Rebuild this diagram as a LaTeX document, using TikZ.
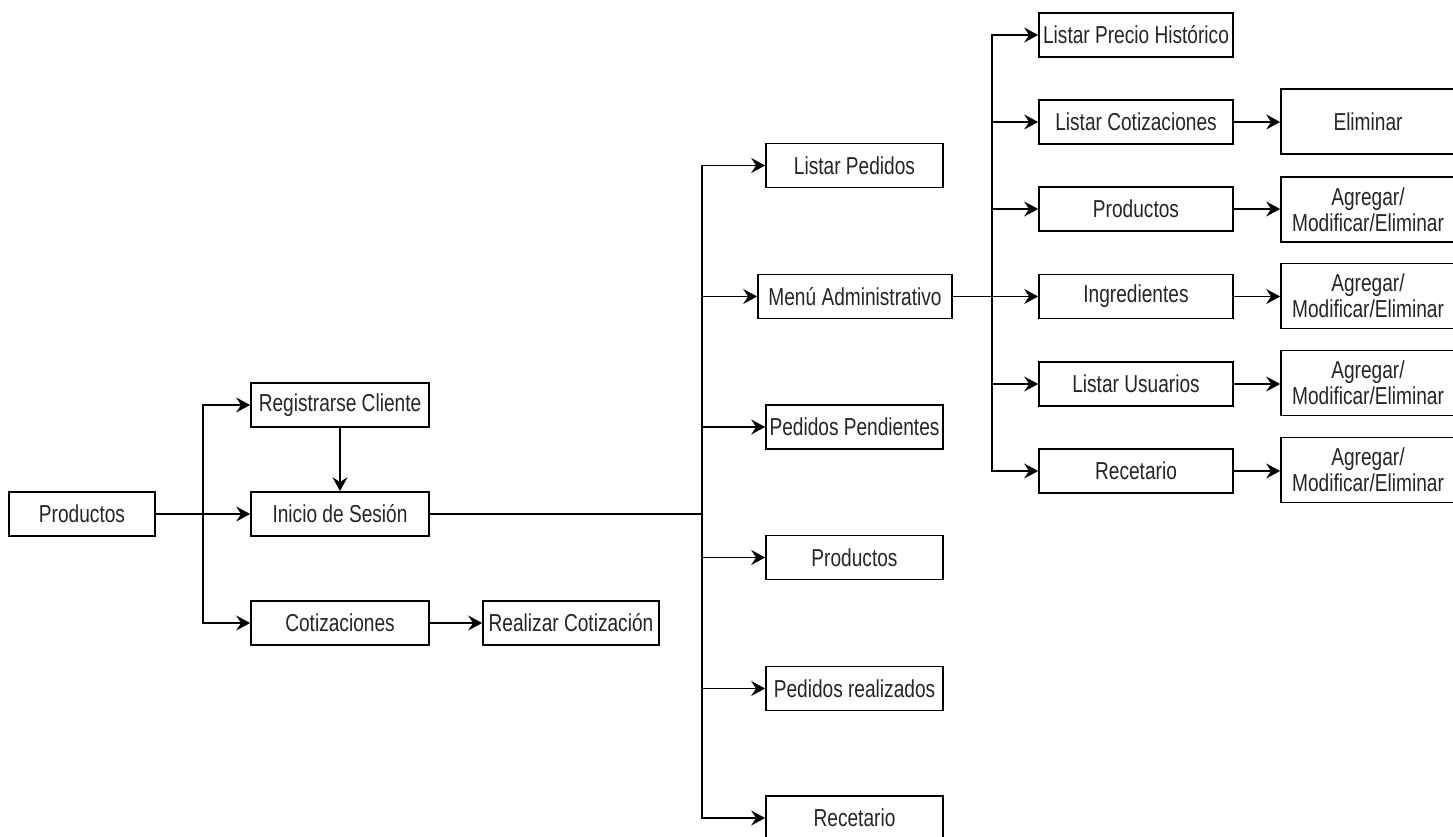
\documentclass[tikz,border=0pt]{standalone}
\usepackage{fontspec}
\newfontfamily\diafont[FakeStretch=0.78]{Liberation Sans}
\usetikzlibrary{arrows.meta}
\tikzset{tipa/.tip={Stealth[length=14pt,width=15pt,inset=5pt]}}
\begin{document}
\begin{tikzpicture}[x=1pt,y=-1pt,
  box/.style={draw=black, line width=1.7pt, fill=white, inner sep=0pt, align=center,
    font=\diafont\fontsize{24.5}{26}\selectfont, text=black!85, minimum height=44pt},
  wa/.style={minimum width=146pt},
  wb/.style={minimum width=178pt},
  wc/.style={minimum width=177pt},
  wr/.style={minimum width=194pt},
  wf/.style={minimum width=174pt, minimum height=65pt},
  conn/.style={line width=1.6pt, draw=black},
  arr/.style={conn, -tipa}
]
\fill[white] (0,0) rectangle (1453,837);
\useasboundingbox (0,0) rectangle (1453,837);

% left part
\node[box,wa] (prod0) at (82,514) {Productos};
\node[box,wb] (reg) at (340,405) {Registrarse Cliente};
\node[box,wb] (ini) at (340,514) {Inicio de Sesión};
\node[box,wb] (cot) at (340,623) {Cotizaciones};
\node[box,minimum width=176pt] (real) at (571,623) {Realizar Cotización};

% middle column
\node[box,wc] (lped) at (854.5,165.5) {Listar Pedidos};
\node[box,wr] (menu) at (855,296.5) {Menú Administrativo};
\node[box,wc] (pend) at (854.5,427) {Pedidos Pendientes};
\node[box,wc] (prodm) at (854.5,557.5) {Productos};
\node[box,wc] (preal) at (854.5,688.5) {Pedidos realizados};
\node[box,wc] (recm) at (854.5,818) {Recetario};

% right column
\node[box,wr] (hist) at (1136,35) {Listar Precio Histórico};
\node[box,wr] (lcot) at (1136,122) {Listar Cotizaciones};
\node[box,wr] (prodr) at (1136,209) {Productos};
\node[box,wr] (ingr) at (1136,296.5) {Ingredientes};
\node[box,wr] (lusu) at (1136,384) {Listar Usuarios};
\node[box,wr] (recr) at (1136,471) {Recetario};

% far right column
\node[box,wf] (elim) at (1368,121.5) {Eliminar};
\node[box,wf] (ag1) at (1368,209.5) {Agregar/\\Modificar/Eliminar};
\node[box,wf] (ag2) at (1368,296) {Agregar/\\Modificar/Eliminar};
\node[box,wf] (ag3) at (1368,383) {Agregar/\\Modificar/Eliminar};
\node[box,wf] (ag4) at (1368,470) {Agregar/\\Modificar/Eliminar};

% branch points
\coordinate (b1) at (203,514);
\coordinate (b2) at (702,514);
\coordinate (b3) at (992,296.5);

% left connectors
\draw[arr] (prod0.east) -- (ini.west);
\draw[arr] (b1) |- (reg.west);
\draw[arr] (b1) |- (cot.west);
\draw[arr] (reg.south) -- (ini.north);
\draw[arr] (cot.east) -- (real.west);

% middle connectors
\draw[conn] (ini.east) -- (b2);
\draw[arr] (b2) |- (lped.west);
\draw[arr] (b2) |- (menu.west);
\draw[arr] (b2) |- (pend.west);
\draw[arr] (b2) |- (prodm.west);
\draw[arr] (b2) |- (preal.west);
\draw[arr] (b2) |- (recm.west);

% right connectors
\draw[arr] (menu.east) -- (ingr.west);
\draw[arr] (b3) |- (hist.west);
\draw[arr] (b3) |- (lcot.west);
\draw[arr] (b3) |- (prodr.west);
\draw[arr] (b3) |- (lusu.west);
\draw[arr] (b3) |- (recr.west);

% far right connectors
\draw[arr] (lcot.east) -- (lcot.east -| elim.west);
\draw[arr] (prodr.east) -- (prodr.east -| ag1.west);
\draw[arr] (ingr.east) -- (ingr.east -| ag2.west);
\draw[arr] (lusu.east) -- (lusu.east -| ag3.west);
\draw[arr] (recr.east) -- (recr.east -| ag4.west);
\end{tikzpicture}
\end{document}
